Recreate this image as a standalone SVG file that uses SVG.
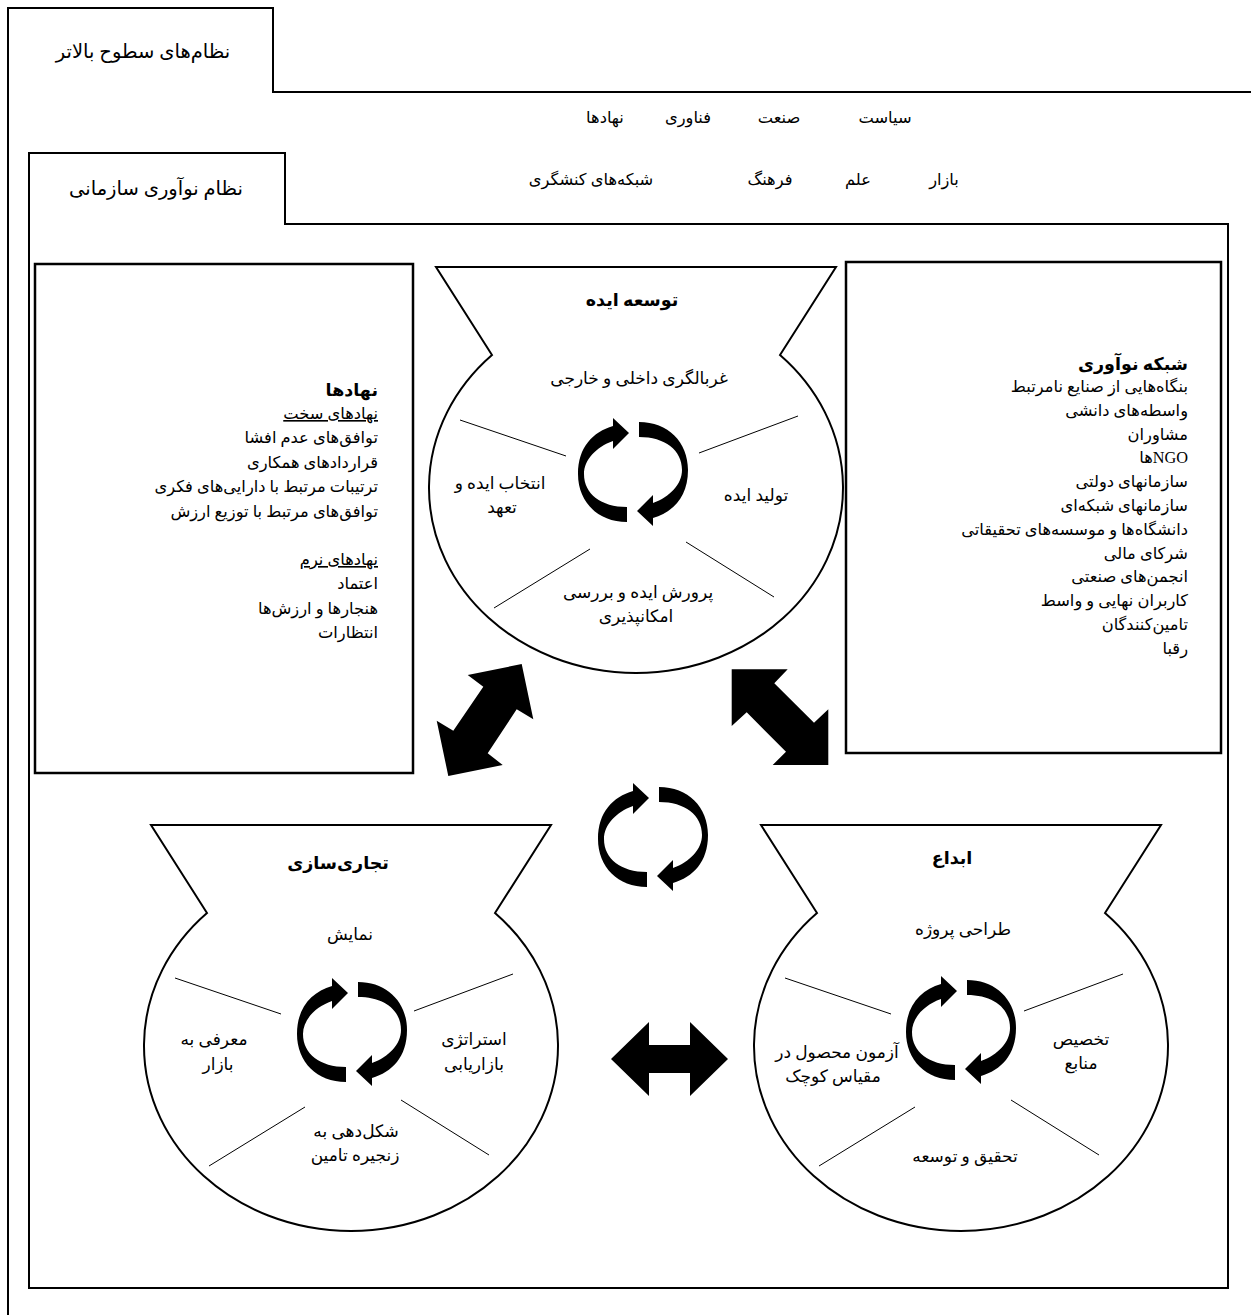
<svg xmlns="http://www.w3.org/2000/svg" width="1251" height="1315" viewBox="0 0 1251 1315">
<defs>
<style>
text{font-family:'Liberation Serif','DejaVu Sans',sans-serif;font-size:16.3px;direction:rtl;fill:#000}
.f{font-size:17px}
.c{text-anchor:middle}
.r{text-anchor:start}
.b{font-weight:bold;font-size:17.5px}
.tab{font-size:19.5px}
.u{text-decoration:underline;text-decoration-skip-ink:none}
.frame{fill:none;stroke:#000;stroke-width:2}
.box{fill:#fff;stroke:#000;stroke-width:2.5}
.funnel{fill:#fff;stroke:#000;stroke-width:2}
.dv{stroke:#000;stroke-width:1}
.solid{fill:#000;stroke:none}
</style>
<path id="funnelShape" d="M -200,0 L 200,0 L 144,88 A 207 185 0 1 1 -144,88 Z"/>
<path id="cres" d="M -6,50 C -35,50 -55,30 -55,2 C -55,-25 -40,-40 -20,-46 L -20,-54 L -4,-39 L -20,-23 L -20,-31 C -37,-25 -49,-12 -49,2 C -49,22 -32,35 -6,35 Z"/>
<g id="cycle" class="solid"><use href="#cres"/><use href="#cres" transform="rotate(180)"/></g>
<g id="dividers" class="dv">
<line x1="-176" y1="153" x2="-70" y2="189"/>
<line x1="162" y1="149" x2="63" y2="186"/>
<line x1="-142" y1="341" x2="-46" y2="282"/>
<line x1="50" y1="275" x2="138" y2="330"/>
</g>
</defs>
<rect width="1251" height="1315" fill="#fff"/>

<g id="outer-system">
<path class="frame" d="M 8,1315 L 8,8 L 273,8 L 273,92 L 1251,92"/>
<text class="c tab" x="143" y="58">نظام&#x200C;های سطوح بالاتر</text>
<text class="c" x="885" y="123">سیاست</text>
<text class="c" x="779" y="123">صنعت</text>
<text class="c" x="688" y="123">فناوری</text>
<text class="c" x="605" y="123">نهادها</text>
<text class="c" x="944" y="185">بازار</text>
<text class="c" x="858" y="185">علم</text>
<text class="c" x="770" y="185">فرهنگ</text>
<text class="c" x="591" y="185">شبکه&#x200C;های کنشگری</text>
</g>

<g id="org-system">
<path class="frame" d="M 29,1288 L 29,153 L 285,153 L 285,224 L 1228,224 L 1228,1288 Z"/>
<text class="c tab" x="156" y="195">نظام نوآوری سازمانی</text>
</g>

<g id="institutions">
<rect class="box" x="35" y="264" width="378" height="509"/>
<text class="r b" x="378" y="396">نهادها</text>
<text class="r u" x="378" y="419">نهادهای سخت</text>
<text class="r" x="378" y="443">توافق&#x200C;های عدم افشا</text>
<text class="r" x="378" y="468">قراردادهای همکاری</text>
<text class="r" x="378" y="492">ترتیبات مرتبط با دارایی&#x200C;های فکری</text>
<text class="r" x="378" y="517">توافق&#x200C;های مرتبط با توزیع ارزش</text>
<text class="r u" x="378" y="565">نهادهای نرم</text>
<text class="r" x="378" y="589">اعتماد</text>
<text class="r" x="378" y="614">هنجارها و ارزش&#x200C;ها</text>
<text class="r" x="378" y="638">انتظارات</text>
</g>

<g id="innovation-network">
<rect class="box" x="846" y="262" width="375" height="491"/>
<text class="r b" x="1188" y="370">شبکه نوآوری</text>
<text class="r" x="1188" y="392">بنگاه&#x200C;هایی از صنایع نامرتبط</text>
<text class="r" x="1188" y="416">واسطه&#x200C;های دانشی</text>
<text class="r" x="1188" y="440">مشاوران</text>
<text class="r" x="1188" y="463">NGOها</text>
<text class="r" x="1188" y="487">سازمانهای دولتی</text>
<text class="r" x="1188" y="511">سازمانهای شبکه&#x200C;ای</text>
<text class="r" x="1188" y="535">دانشگاه&#x200C;ها و موسسه&#x200C;های تحقیقاتی</text>
<text class="r" x="1188" y="559">شرکای مالی</text>
<text class="r" x="1188" y="582">انجمن&#x200C;های صنعتی</text>
<text class="r" x="1188" y="606">کاربران نهایی و واسط</text>
<text class="r" x="1188" y="630">تامین&#x200C;کنندگان</text>
<text class="r" x="1188" y="654">رقبا</text>
</g>

<g id="idea-development" transform="translate(636,267)">
<use class="funnel" href="#funnelShape"/>
<use href="#dividers"/>
<use href="#cycle" transform="translate(-3,205)"/>
<text class="c b" x="-4" y="39">توسعه ایده</text>
<text class="c f" x="3" y="117">غربالگری داخلی و خارجی</text>
<text class="c f" x="-136" y="222">انتخاب ایده و</text>
<text class="c f" x="-134" y="246">تعهد</text>
<text class="c f" x="120" y="234">تولید ایده</text>
<text class="c f" x="2" y="331">پرورش ایده و بررسی</text>
<text class="c f" x="0" y="355">امکانپذیری</text>
</g>

<g id="commercialization" transform="translate(351,825)">
<use class="funnel" href="#funnelShape"/>
<use href="#dividers"/>
<use href="#cycle" transform="translate(1,207)"/>
<text class="c b" x="-13" y="44">تجاری&#x200C;سازی</text>
<text class="c f" x="-1" y="115">نمایش</text>
<text class="c f" x="-137" y="220">معرفی به</text>
<text class="c f" x="-133" y="245">بازار</text>
<text class="c f" x="123" y="220">استراتژی</text>
<text class="c f" x="123" y="245">بازاریابی</text>
<text class="c f" x="5" y="312">شکل&#x200C;دهی به</text>
<text class="c f" x="4" y="336">زنجیره تامین</text>
</g>

<g id="invention" transform="translate(961,825)">
<use class="funnel" href="#funnelShape"/>
<use href="#dividers"/>
<use href="#cycle" transform="translate(0,205)"/>
<text class="c b" x="-9" y="39">ابداع</text>
<text class="c f" x="2" y="110">طراحی پروژه</text>
<text class="c f" x="-124" y="233">آزمون محصول در</text>
<text class="c f" x="-128" y="257">مقیاس کوچک</text>
<text class="c f" x="120" y="220">تخصیص</text>
<text class="c f" x="120" y="244">منابع</text>
<text class="c f" x="4" y="337">تحقیق و توسعه</text>
</g>

<g id="center-cycle">
<use href="#cycle" transform="translate(653,837)"/>
</g>

<g id="connectors" class="solid">
<polygon points="521.7,664 467.7,675 483.3,686.7 453.3,730.7 436.7,720.7 448.3,776 502.7,765 487.7,753.3 516.7,709.3 533.3,719.3"/>
<polygon points="731.7,669.3 787.7,669.3 774.3,683.3 814,722.7 828.3,709.3 828.3,765 772.7,765 786,751.7 746.7,712.3 731.7,726"/>
<polygon points="611,1059 649,1022 649,1045 690,1045 690,1022 728,1059 690,1096 690,1073 649,1073 649,1096"/>
</g>
</svg>
